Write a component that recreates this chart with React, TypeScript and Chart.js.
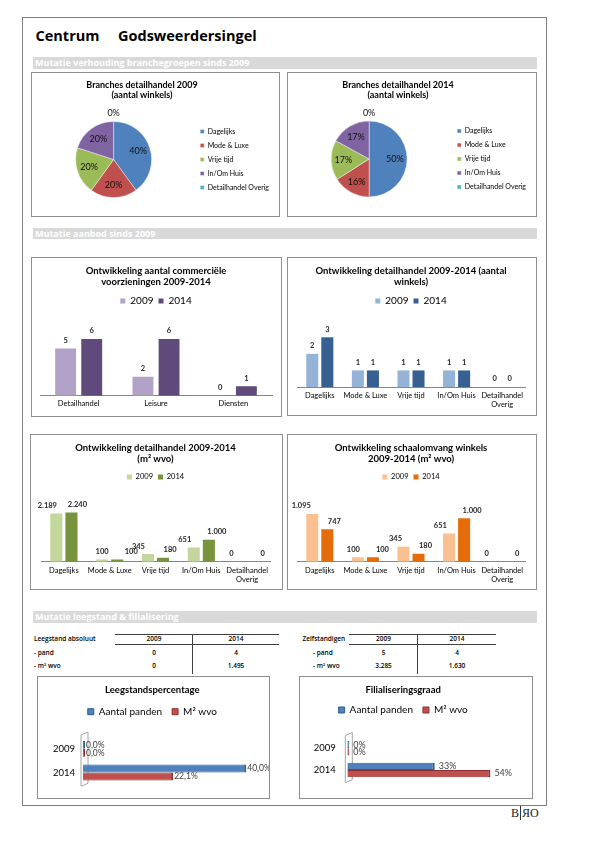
import React, { useEffect, useRef } from 'react';
import { Chart, registerables } from 'chart.js';

Chart.register(...registerables);
Chart.defaults.font.family = 'Lato, "Open Sans", sans-serif';
Chart.defaults.color = '#000';

// ===================== DATA =====================
const pieCategories = ['Dagelijks', 'Mode & Luxe', 'Vrije tijd', 'In/Om Huis', 'Detailhandel Overig'];
const pieShare2009 = [40, 20, 20, 20, 0];
const pieShare2014 = [50, 16, 17, 17, 0];

const voorzieningCategories = ['Detailhandel', 'Leisure', 'Diensten'];
const voorzieningen2009 = [5, 2, 0];
const voorzieningen2014 = [6, 6, 1];

const brancheCategories = ['Dagelijks', 'Mode & Luxe', 'Vrije tijd', 'In/Om Huis', 'Detailhandel Overig'];
const winkels2009 = [2, 1, 1, 1, 0];
const winkels2014 = [3, 1, 1, 1, 0];
const wvo2009 = [2189, 100, 345, 651, 0];
const wvo2014 = [2240, 100, 180, 1000, 0];
const schaal2009 = [1095, 100, 345, 651, 0];
const schaal2014 = [747, 100, 180, 1000, 0];

const seriesYears = ['2009', '2014'];
const pctSeries = ['Aantal panden', 'M² wvo'];
const leegstandPanden = [0, 40.0];
const leegstandWvo = [0, 22.1];
const filialisatiePanden = [0, 33];
const filialisatieWvo = [0, 54];

const tableRows = ['- pand', '- m² wvo'];
const leegstand2009 = [0, 0];
const leegstand2014 = [4, 1495];
const zelfstandigen2009 = [5, 3285];
const zelfstandigen2014 = [4, 1630];

// ===================== STYLE =====================
const PAGE_FONT = '"Open Sans", "Noto Sans", sans-serif';
const CHART_FONT = 'Lato, "Open Sans", sans-serif';
const pieColors = ['#4F81BD', '#C0504D', '#9BBB59', '#8064A2', '#4BACC6'];

const fmtNL = (v: number) => String(v).replace(/\B(?=(\d{3})+(?!\d))/g, '.');

// ===================== CONFIG BUILDERS =====================
function makePieConfig(values: number[], pad: any) {
  const pieLabels = {
    id: 'pieLabels',
    afterDatasetsDraw(chart: any) {
      const ctx = chart.ctx;
      const meta = chart.getDatasetMeta(0);
      const data = chart.data.datasets[0].data;
      ctx.save();
      ctx.font = '9px ' + CHART_FONT;
      ctx.fillStyle = '#111';
      ctx.textAlign = 'center';
      ctx.textBaseline = 'middle';
      meta.data.forEach((arc: any, i: number) => {
        const p = arc.getProps(['x', 'y', 'startAngle', 'endAngle', 'outerRadius']);
        const mid = (p.startAngle + p.endAngle) / 2;
        const r = data[i] === 0 ? p.outerRadius * 1.22 : p.outerRadius * 0.68;
        ctx.fillText(data[i] + '%', p.x + Math.cos(mid) * r, p.y + Math.sin(mid) * r);
      });
      ctx.restore();
    },
  };
  return {
    type: 'pie',
    data: {
      labels: pieCategories,
      datasets: [{ data: values, backgroundColor: pieColors, borderColor: 'rgba(255,255,255,0.7)', borderWidth: 0.6, radius: 38 }],
    },
    options: {
      responsive: false,
      animation: false,
      layout: { padding: pad },
      plugins: {
        tooltip: { enabled: false },
        title: { display: false },
        legend: {
          position: 'right',
          align: 'center',
          labels: { boxWidth: 4, boxHeight: 4, padding: 7, font: { size: 7 }, color: '#000' },
        },
      },
    },
    plugins: [pieLabels],
  };
}

function makeBarConfig(title: string[], cats: string[], s1: number[], s2: number[], c1: string, c2: string, g: any, dx1: number[], dx2: number[]) {
  const titleLH = 11;
  const itemH = g.legendFont;
  const legendTop = g.legendC - g.legendPad - itemH / 2;
  const titlePadTop = g.titleC - titleLH / 2;
  const titlePadBottom = legendTop - (titlePadTop + titleLH * title.length);
  const legendBottom = legendTop + itemH + g.legendPad + 10;
  const spacer = g.plotTop - legendBottom;
  const tickLH = 8.5;
  const valueLabels = {
    id: 'valueLabels',
    afterDatasetsDraw(chart: any) {
      const ctx = chart.ctx;
      ctx.save();
      ctx.font = 'bold 7.5px ' + CHART_FONT;
      ctx.fillStyle = '#262626';
      ctx.textAlign = 'center';
      ctx.textBaseline = 'middle';
      [dx1, dx2].forEach((dxs, di) => {
        const meta = chart.getDatasetMeta(di);
        const data = chart.data.datasets[di].data;
        meta.data.forEach((el: any, i: number) => {
          ctx.fillText(fmtNL(data[i]), el.x + (dxs[i] || 0), el.y - 8);
        });
      });
      ctx.restore();
    },
  };
  return {
    type: 'bar',
    data: {
      labels: cats,
      datasets: [
        { label: seriesYears[0], data: s1, backgroundColor: c1, categoryPercentage: g.catPct, barPercentage: 0.8 },
        { label: seriesYears[1], data: s2, backgroundColor: c2, categoryPercentage: g.catPct, barPercentage: 0.8 },
      ],
    },
    options: {
      responsive: false,
      animation: false,
      layout: { padding: { left: g.padL, right: g.padR, top: 0, bottom: 0 } },
      plugins: {
        tooltip: { enabled: false },
        title: {
          display: true,
          text: title,
          color: '#000',
          font: { size: 9.5, weight: 'bold', lineHeight: titleLH + 'px' },
          padding: { top: titlePadTop, bottom: titlePadBottom },
        },
        legend: {
          display: true,
          position: 'top',
          labels: { boxWidth: 5, boxHeight: 5, padding: g.legendPad, font: { size: g.legendFont }, color: '#000' },
        },
      },
      scales: {
        x: {
          position: 'bottom',
          grid: { display: false, drawTicks: false },
          border: { display: true, color: '#868686' },
          ticks: {
            font: { size: 7.5, lineHeight: tickLH + 'px' },
            color: '#000',
            padding: g.tickC - g.plotBottom - tickLH / 2,
            autoSkip: false,
            maxRotation: 0,
            callback: (_v: any, i: number) => (cats[i].length > 14 ? cats[i].split(' ') : cats[i]),
          },
          afterFit: (s: any) => { s.height = g.h - g.plotBottom; },
        },
        xTop: {
          type: 'category',
          position: 'top',
          grid: { display: false, drawTicks: false },
          border: { display: false },
          ticks: { display: false },
          afterFit: (s: any) => { s.height = spacer; },
        },
        y: { display: false, min: 0, max: g.yMax },
      },
    },
    plugins: [valueLabels],
  };
}

function makeHBarConfig(title: string, s1: number[], s2: number[], g: any, fmt: (v: number) => string) {
  const titleLH = 11;
  const itemH = 10;
  const lpad = 10;
  const legendTop = g.legendC - lpad - itemH / 2;
  const titlePadTop = g.titleC - titleLH / 2;
  const titlePadBottom = legendTop - (titlePadTop + titleLH);
  const legendBottom = legendTop + itemH + lpad + 10;
  const spacer = g.plotTop - legendBottom;
  const wall = {
    id: 'wall3d',
    beforeDatasetsDraw(chart: any) {
      const { left, top, bottom } = chart.chartArea;
      const ctx = chart.ctx;
      ctx.save();
      ctx.strokeStyle = '#A6A6A6';
      ctx.lineWidth = 1;
      ctx.beginPath();
      ctx.moveTo(left - 2, top - 2);
      ctx.lineTo(left + 5, top - 5);
      ctx.lineTo(left + 5, bottom - 1);
      ctx.lineTo(left - 2, bottom + 2);
      ctx.closePath();
      ctx.stroke();
      ctx.restore();
    },
  };
  const valueLabels = {
    id: 'hValueLabels',
    afterDatasetsDraw(chart: any) {
      const ctx = chart.ctx;
      ctx.save();
      ctx.font = g.labelFont + 'px ' + CHART_FONT;
      ctx.fillStyle = '#404040';
      ctx.textAlign = 'left';
      ctx.textBaseline = 'middle';
      chart.data.datasets.forEach((ds: any, di: number) => {
        const meta = chart.getDatasetMeta(di);
        meta.data.forEach((el: any, i: number) => {
          ctx.fillText(fmt(ds.data[i]), el.x + g.labelGap, el.y);
        });
      });
      ctx.restore();
    },
  };
  return {
    type: 'bar',
    data: {
      labels: seriesYears,
      datasets: [
        {
          label: pctSeries[0], data: s1, backgroundColor: '#4F81BD', borderColor: '#2F5B8E',
          borderWidth: { top: 1, right: 2, bottom: 1, left: 0 }, minBarLength: 2,
          categoryPercentage: 0.67, barPercentage: 1,
        },
        {
          label: pctSeries[1], data: s2, backgroundColor: '#C0504D', borderColor: '#8A2F2D',
          borderWidth: { top: 1, right: 2, bottom: 1, left: 0 }, minBarLength: 2,
          categoryPercentage: 0.67, barPercentage: 1,
        },
      ],
    },
    options: {
      indexAxis: 'y',
      responsive: false,
      animation: false,
      layout: { padding: { left: 0, right: g.padR, top: 0, bottom: g.h - g.plotBottom } },
      plugins: {
        tooltip: { enabled: false },
        title: {
          display: true,
          text: title,
          color: '#000',
          font: { size: 9.5, weight: 'bold', lineHeight: titleLH + 'px' },
          padding: { top: titlePadTop, bottom: titlePadBottom },
        },
        legend: {
          display: true,
          position: 'top',
          labels: { boxWidth: 6, boxHeight: 6, padding: lpad, font: { size: 10 }, color: '#000' },
        },
      },
      scales: {
        x: {
          position: 'top', min: 0, max: g.xMax,
          grid: { display: false, drawTicks: false }, border: { display: false }, ticks: { display: false },
          afterFit: (s: any) => { s.height = spacer; },
        },
        y: {
          position: 'left',
          grid: { display: false, drawTicks: false }, border: { display: false },
          ticks: { font: { size: 9.5 }, color: '#000', padding: g.tickPad },
          afterFit: (s: any) => { s.width = g.plotLeft; },
        },
      },
    },
    plugins: [wall, valueLabels],
  };
}

// ===================== COMPONENTS =====================
function ChartBox({ left, top, width, height, make, children }: any) {
  const ref = useRef<HTMLCanvasElement>(null);
  useEffect(() => {
    const chart = new Chart(ref.current as HTMLCanvasElement, make());
    return () => chart.destroy();
  }, []);
  return (
    <div style={{ position: 'absolute', left, top, width, height, boxSizing: 'border-box', border: '1px solid #8E8E8E', background: '#fff' }}>
      <canvas ref={ref} width={width - 2} height={height - 2} style={{ display: 'block', width: width - 2, height: height - 2 }} />
      {children}
    </div>
  );
}

function Txt({ x, y, children, size = 6.5, bold = false, weight, align = 'left', family = PAGE_FONT, color = '#000', lh }: any) {
  const lineH = lh ?? Math.round(size * 1.5);
  const style: any = {
    position: 'absolute', top: y - lineH / 2, height: lineH, lineHeight: lineH + 'px', fontSize: size,
    fontWeight: weight ?? (bold ? 700 : 400), fontFamily: family, color, whiteSpace: 'nowrap',
  };
  if (align === 'center') { style.left = x - 120; style.width = 240; style.textAlign = 'center'; }
  else style.left = x;
  return <div style={style}>{children}</div>;
}

function HLine({ x1, x2, y, color = '#404040' }: any) {
  return <div style={{ position: 'absolute', left: x1, top: y, width: x2 - x1, height: 1, background: color }} />;
}
function VLine({ x, y1, y2, color = '#404040' }: any) {
  return <div style={{ position: 'absolute', left: x, top: y1, width: 1, height: y2 - y1, background: color }} />;
}

function SectionBar({ y, h, text }: any) {
  return (
    <div style={{
      position: 'absolute', left: 33, top: y, width: 504, height: h, background: '#D9D9D9', color: '#fff',
      fontFamily: PAGE_FONT, fontWeight: 700, fontSize: 9, lineHeight: h + 'px', paddingLeft: 2, boxSizing: 'border-box', whiteSpace: 'nowrap',
    }}>{text}</div>
  );
}

function PieTitle({ cx, lines }: any) {
  return (
    <>
      <Txt x={cx} y={85} size={9} bold align="center" family={CHART_FONT} lh={10}>{lines[0]}</Txt>
      <Txt x={cx} y={95} size={9} bold align="center" family={CHART_FONT} lh={10}>{lines[1]}</Txt>
    </>
  );
}

const TW = 600; // table text weight

export default function App() {
  return (
    <div style={{ position: 'absolute', left: 0, top: 0, width: 595, height: 842, background: '#fff', overflow: 'hidden' }}>
      {/* page frame */}
      <div style={{ position: 'absolute', left: 22, top: 17, width: 525, height: 789, boxSizing: 'border-box', border: '1px solid #7F7F7F' }} />

      {/* header */}
      <Txt x={35.5} y={36} size={14.5} bold lh={20}>Centrum</Txt>
      <Txt x={118} y={36} size={14.5} bold lh={20}>Godsweerdersingel</Txt>

      <SectionBar y={57} h={12} text="Mutatie verhouding branchegroepen sinds 2009" />

      <ChartBox left={31} top={72} width={249} height={145}
        make={() => makePieConfig(pieShare2009, { left: 2, right: 0, top: 41.5, bottom: 11.5 })} />
      <ChartBox left={287} top={72} width={250} height={145}
        make={() => makePieConfig(pieShare2014, { left: 0, right: 0, top: 41, bottom: 12 })} />
      <PieTitle cx={142} lines={['Branches detailhandel 2009', '(aantal winkels)']} />
      <PieTitle cx={398} lines={['Branches detailhandel 2014', '(aantal winkels)']} />

      <SectionBar y={228} h={11} text="Mutatie aanbod sinds 2009" />

      <ChartBox left={31} top={257} width={251} height={160}
        make={() => makeBarConfig(['Ontwikkeling aantal commerciële', 'voorzieningen 2009-2014'], voorzieningCategories,
          voorzieningen2009, voorzieningen2014, '#B3A2C7', '#604A7B',
          { h: 158, titleC: 13, legendC: 43, legendFont: 10, legendPad: 5, plotTop: 71.5, plotBottom: 137.7, padL: 8, padR: 9, tickC: 146, yMax: 7, catPct: 0.675 },
          [0, 0, 0], [0, 0, 0])} />
      <ChartBox left={287} top={257} width={250} height={159}
        make={() => makeBarConfig(['Ontwikkeling detailhandel 2009-2014 (aantal', 'winkels)'], brancheCategories,
          winkels2009, winkels2014, '#95B3D7', '#376092',
          { h: 157, titleC: 12.7, legendC: 43, legendFont: 10, legendPad: 5, plotTop: 71, plotBottom: 129, padL: 9, padR: 11, tickC: 138, yMax: 3.5, catPct: 0.66 },
          [0, 0, 0, 0, 0], [0, 0, 0, 0, 0])} />

      <ChartBox left={30} top={434} width={253} height={156}
        make={() => makeBarConfig(['Ontwikkeling detailhandel 2009-2014', '(m² wvo)'], brancheCategories,
          wvo2009, wvo2014, '#C3D69B', '#77933C',
          { h: 154, titleC: 12.7, legendC: 42, legendFont: 7.5, legendPad: 5, plotTop: 71.7, plotBottom: 126.7, padL: 10, padR: 12, tickC: 136, yMax: 2500, catPct: 0.66 },
          [-9, 0, -9.5, -9, -8], [6, 14, 7, 8, 8])} />
      <ChartBox left={287} top={434} width={250} height={156}
        make={() => makeBarConfig(['Ontwikkeling schaalomvang winkels', '2009-2014 (m² wvo)'], brancheCategories,
          schaal2009, schaal2014, '#FAC090', '#E46C0A',
          { h: 154, titleC: 12.7, legendC: 42, legendFont: 7.5, legendPad: 5, plotTop: 74.5, plotBottom: 126.7, padL: 9, padR: 11, tickC: 136, yMax: 1200, catPct: 0.66 },
          [-11, -4.5, -8, -8.7, -8], [7, 9.5, 7, 8, 7.5])} />

      <SectionBar y={611} h={12} text="Mutatie leegstand & filialisering" />

      {/* Leegstand table */}
      <Txt x={34} y={639} weight={TW}>Leegstand absoluut</Txt>
      <HLine x1={115} x2={279} y={634} />
      <HLine x1={115} x2={279} y={644} />
      <VLine x={192} y1={634} y2={674} />
      <Txt x={154} y={639} align="center" weight={TW}>{seriesYears[0]}</Txt>
      <Txt x={236} y={639} align="center" weight={TW}>{seriesYears[1]}</Txt>
      {tableRows.map((r, i) => (
        <React.Fragment key={'l' + i}>
          <Txt x={34} y={653 + i * 13} weight={TW}>{r}</Txt>
          <Txt x={154} y={653 + i * 13} align="center" weight={TW}>{fmtNL(leegstand2009[i])}</Txt>
          <Txt x={236} y={653 + i * 13} align="center" weight={TW}>{fmtNL(leegstand2014[i])}</Txt>
        </React.Fragment>
      ))}

      {/* Zelfstandigen table */}
      <Txt x={302.5} y={639} weight={TW}>Zelfstandigen</Txt>
      <HLine x1={349} x2={496} y={634} />
      <HLine x1={349} x2={496} y={644} />
      <VLine x={417} y1={634} y2={674} />
      <Txt x={383.5} y={639} align="center" weight={TW}>{seriesYears[0]}</Txt>
      <Txt x={457} y={639} align="center" weight={TW}>{seriesYears[1]}</Txt>
      {tableRows.map((r, i) => (
        <React.Fragment key={'z' + i}>
          <Txt x={313} y={653 + i * 13} weight={TW}>{r}</Txt>
          <Txt x={383.5} y={653 + i * 13} align="center" weight={TW}>{fmtNL(zelfstandigen2009[i])}</Txt>
          <Txt x={457} y={653 + i * 13} align="center" weight={TW}>{fmtNL(zelfstandigen2014[i])}</Txt>
        </React.Fragment>
      ))}

      <ChartBox left={37} top={676} width={233} height={123}
        make={() => makeHBarConfig('Leegstandspercentage', leegstandPanden, leegstandWvo,
          { h: 121, titleC: 13, legendC: 34.7, plotTop: 60, plotBottom: 108, plotLeft: 45, padR: 2.4, tickPad: 8, xMax: 45, labelFont: 8.5, labelGap: 1 },
          (v) => v.toFixed(1).replace('.', ',') + '%')} />
      <ChartBox left={299} top={676} width={234} height={123}
        make={() => makeHBarConfig('Filialiseringsgraad', filialisatiePanden, filialisatieWvo,
          { h: 121, titleC: 13, legendC: 33, plotTop: 60.5, plotBottom: 109.5, plotLeft: 47.3, padR: 25.7, tickPad: 11.6, xMax: 60, labelFont: 9, labelGap: 4 },
          (v) => Math.round(v) + '%')} />

      {/* logo */}
      <div style={{ position: 'absolute', left: 511, top: 805, height: 16, lineHeight: '16px', fontFamily: '"Liberation Serif", "DejaVu Serif", serif', fontSize: 12, color: '#222', whiteSpace: 'nowrap' }}>
        B<span style={{ borderLeft: '1px solid #333', marginLeft: 1, paddingLeft: 1 }}>ЯO</span>
      </div>
    </div>
  );
}
